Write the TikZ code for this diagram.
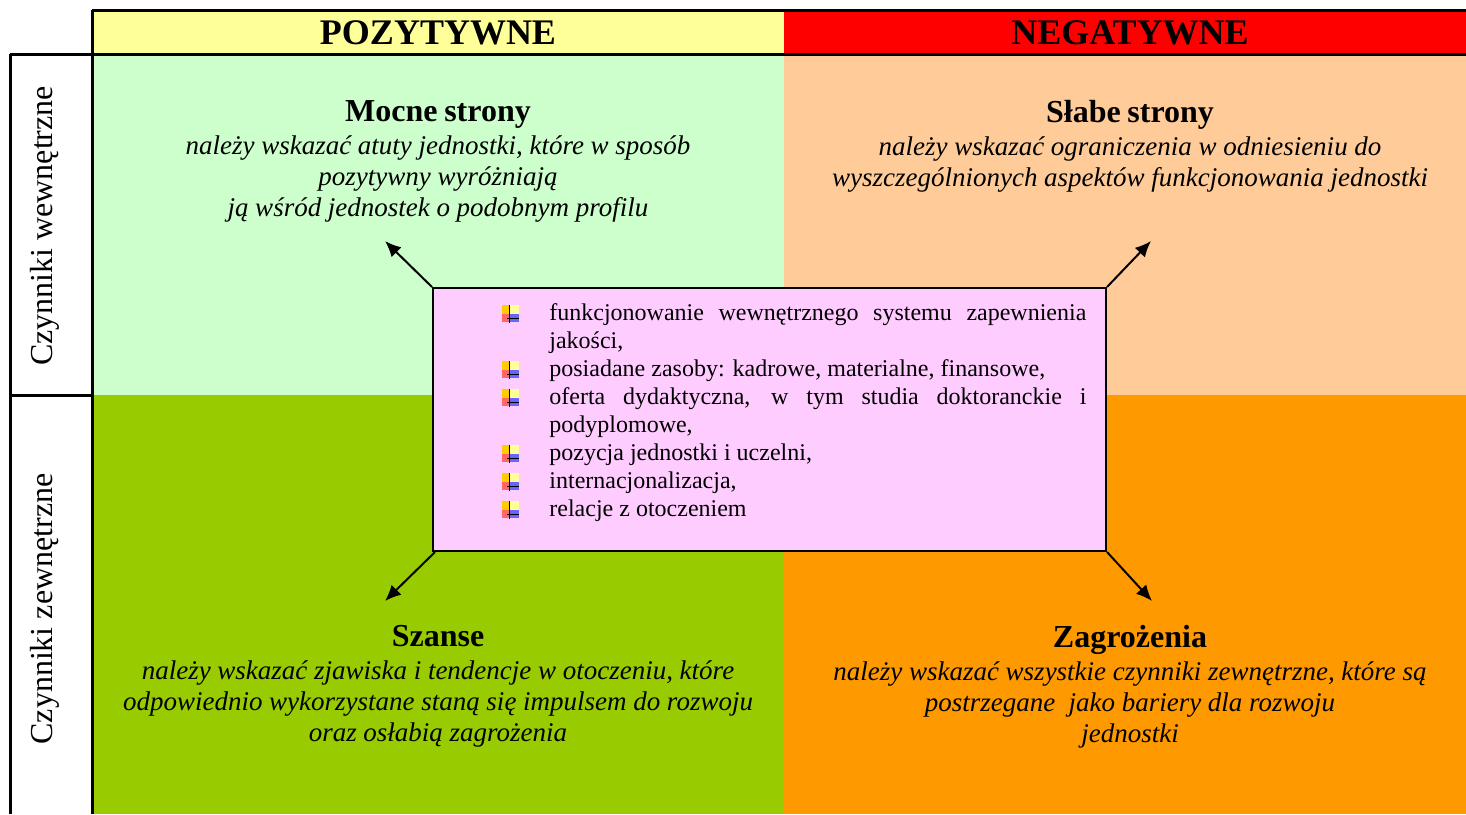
\documentclass[tikz,border=0pt]{standalone}
\usepackage{fontspec}
\setmainfont{Liberation Serif}
\usetikzlibrary{positioning}
\usetikzlibrary{arrows.meta}

\definecolor{headyellow}{HTML}{FFFF99}
\definecolor{headred}{HTML}{FF0000}
\definecolor{strgreen}{HTML}{CCFFCC}
\definecolor{weakpeach}{HTML}{FFCC99}
\definecolor{oppgreen}{HTML}{99CC00}
\definecolor{threatorange}{HTML}{FF9900}
\definecolor{corepink}{HTML}{FFCCFF}
\definecolor{bulletgold}{HTML}{FFCC00}
\definecolor{bulletpale}{HTML}{FFFF99}
\definecolor{bulletred}{HTML}{FF6666}
\definecolor{bulletblue}{HTML}{6666FF}

\newcommand{\swotbullet}{\raisebox{-1pt}{\setlength{\unitlength}{1pt}\begin{picture}(8,8)
\put(0,4){\textcolor{bulletgold}{\rule{4pt}{4.5pt}}}
\put(4,4){\textcolor{bulletpale}{\rule{4.5pt}{4.5pt}}}
\put(0,0){\textcolor{bulletred}{\rule{4pt}{4pt}}}
\put(4,0){\textcolor{bulletblue}{\rule{4.5pt}{4pt}}}
\put(3.4,-0.5){\rule{0.6pt}{9pt}}
\put(2.5,1.6){\rule{6pt}{0.6pt}}
\end{picture}}}
\newcommand{\quadtitle}[1]{{\fontsize{16}{19}\selectfont\bfseries #1\par}\vspace{1pt}\fontsize{13.5}{15.5}\selectfont\itshape}

\begin{document}
\begin{tikzpicture}[x=0.5pt,y=-0.5pt,
	headtext/.style={font=\fontsize{18}{21}\selectfont\bfseries},
	sidetext/.style={rotate=90, font=\fontsize{16}{19}\selectfont},
	quad/.style={text width=340pt, align=center, inner sep=0pt, anchor=north},
	arr/.style={line width=1pt, -{Latex[length=8pt,width=7pt]}},
	frame/.style={line width=1.5pt}]
	\useasboundingbox (0,0) rectangle (1466,814);
	% pola
	\fill[headyellow] (92,10) rectangle (784,54);
	\fill[headred] (784,10) rectangle (1466,54);
	\fill[strgreen] (92,54) rectangle (784,395);
	\fill[weakpeach] (784,54) rectangle (1466,395);
	\fill[oppgreen] (92,395) rectangle (784,814);
	\fill[threatorange] (784,395) rectangle (1466,814);
	% ramka
	\draw[frame] (92,10) -- (1466,10);
	\draw[frame] (10,54) -- (1466,54);
	\draw[frame] (92,10) -- (92,814);
	\draw[frame] (10,54) -- (10,814);
	\draw[frame] (10,395) -- (92,395);
	% naglowki
	\node (pos) [headtext] at (438,33) {POZYTYWNE};
	\node (neg) [headtext] at (1130,33) {NEGATYWNE};
	\node (internal) [sidetext] at (45,226) {Czynniki wewnętrzne};
	\node (external) [sidetext] at (45,609) {Czynniki zewnętrzne};
	% cwiartki
	\node (strengths) [quad] at (438,100) {\quadtitle{Mocne strony}
		należy wskazać atuty jednostki, które w sposób\par pozytywny wyróżniają\par ją wśród jednostek o podobnym profilu\par};
	\node (weaknesses) [quad] at (1130,100) {\quadtitle{Słabe strony}
		należy wskazać ograniczenia w odniesieniu do\par wyszczególnionych aspektów funkcjonowania jednostki\par};
	\node (opportunities) [quad] at (438,625) {\quadtitle{Szanse}
		należy wskazać zjawiska i tendencje w otoczeniu, które\par odpowiednio wykorzystane staną się impulsem do rozwoju\par oraz osłabią zagrożenia\par};
	\node (threats) [quad] at (1130,625) {\quadtitle{Zagrożenia}
		należy wskazać wszystkie czynniki zewnętrzne, które są\par postrzegane\ \ jako bariery dla rozwoju\par jednostki\par};
	% srodek
	\node (core) [draw, line width=1pt, fill=corepink, minimum width=336.5pt, minimum height=131.5pt, inner sep=0pt] at (769.5,419.5) {};
	\node (items) [anchor=north west, text width=292pt, inner sep=0pt, align=justify, font=\fontsize{12}{14}\selectfont] at (502,292) {%
		\hyphenpenalty=10000 \exhyphenpenalty=10000
		\begin{list}{\swotbullet}{\setlength{\leftmargin}{23.5pt}\setlength{\labelwidth}{8pt}\setlength{\labelsep}{15.5pt}%
			\setlength{\topsep}{0pt}\setlength{\partopsep}{0pt}\setlength{\itemsep}{0pt}\setlength{\parsep}{0pt}}
		\item funkcjonowanie wewnętrznego systemu zapewnienia jakości,
		\item posiadane zasoby: kadrowe, materialne, finansowe,
		\item oferta dydaktyczna, w tym studia doktoranckie i podyplomowe,
		\item pozycja jednostki i uczelni,
		\item internacjonalizacja,
		\item relacje z otoczeniem
		\end{list}};
	% strzalki
	\coordinate (tipS) at (385,241);
	\coordinate (tipW) at (1151,241);
	\coordinate (tipO) at (385,601);
	\coordinate (tipT) at (1152,601);
	\draw[arr] (core.north west) -- (tipS);
	\draw[arr] (core.north east) -- (tipW);
	\draw[arr] ([xshift=1.5pt]core.south west) -- (tipO);
	\draw[arr] (core.south east) -- (tipT);
\end{tikzpicture}
\end{document}
